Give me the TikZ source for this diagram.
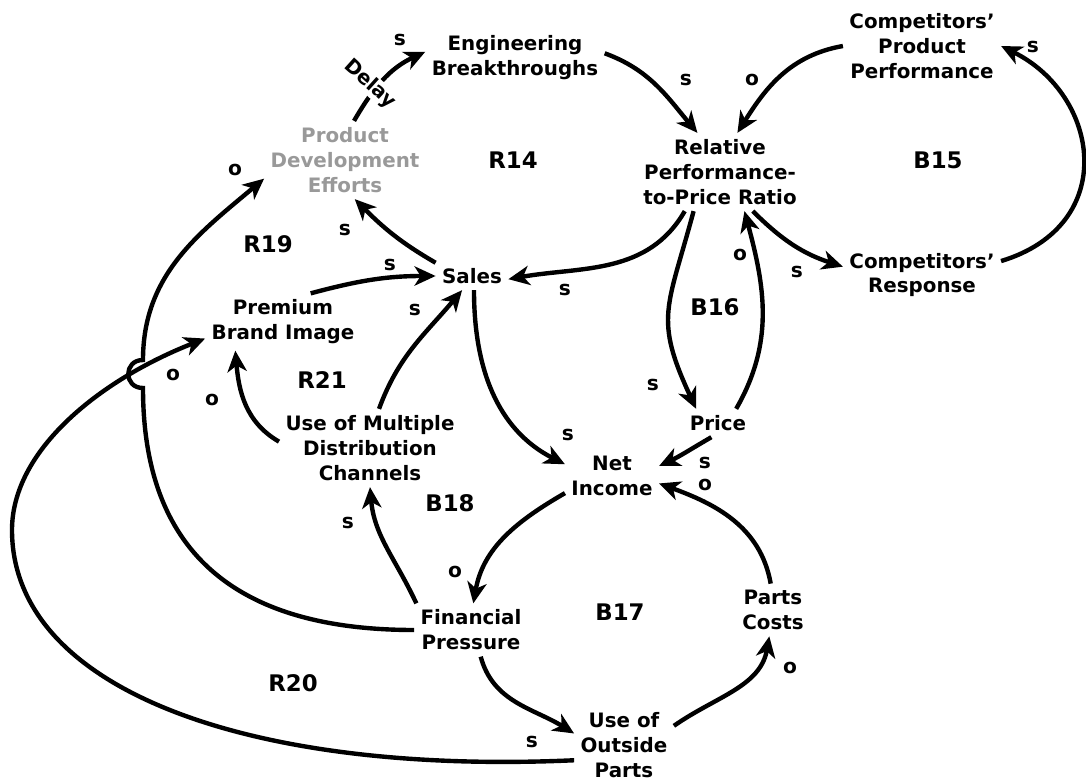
\documentclass[tikz,border=0pt]{standalone}
\usepackage{fontspec}
\setmainfont{DejaVu Sans}
\usetikzlibrary{arrows.meta}
\definecolor{pdegray}{gray}{0.6}

\begin{document}
\begin{tikzpicture}[x=0.02cm,y=-0.02cm,
          every node/.style={font=\bfseries\fontsize{11.3}{14.2}\selectfont},
          var/.style={align=center,inner sep=3.5pt},
          pol/.style={font=\bfseries\fontsize{11.5}{13}\selectfont,inner sep=1pt},
          loopname/.style={font=\bfseries\fontsize{13}{15}\selectfont},
          link/.style={line width=2.5pt,-{Stealth[length=12pt,width=11pt,inset=3.5pt]}},
        ]
        \useasboundingbox (0,0) rectangle (1086,781);
        \node[var] (eb) at (515,58) {Engineering\\Breakthroughs};
        \node[var,text=pdegray] (pde) at (345,160) {Product\\Development\\Efforts};
        \node[var] (rpr) at (720,172) {Relative\\Performance-\\to-Price Ratio};
        \node[var] (cpp) at (922,46) {Competitors’\\Product\\Performance};
        \node[var] (cr) at (922,275) {Competitors’\\Response};
        \node[var] (sales) at (472,276) {Sales};
        \node[var] (pbi) at (283,322) {Premium\\Brand Image};
        \node[var] (umdc) at (370,448) {Use of Multiple\\Distribution\\Channels};
        \node[var] (price) at (718,423) {Price};
        \node[var] (ni) at (612,476) {Net\\Income};
        \node[var] (fp) at (471,630) {Financial\\Pressure};
        \node[var] (pc) at (773,610) {Parts\\Costs};
        \node[var] (uop) at (624,745) {Use of\\Outside\\Parts};
        \coordinate (hopb) at (143,388);
        \coordinate (hopt) at (143,360);
        \coordinate (farw) at (12,530);
        \draw[link] (pde.77) to[out=60,in=205] (eb.176);
        \draw[link] (eb.3) to[out=-20,in=130] (rpr.120);
        \draw[link] (cpp.180) to[out=190,in=58] (rpr.66);
        \draw[link] (cr.10) .. controls (1120,225) and (1100,95) .. (cpp.0);
        \draw[link] (rpr.-50) to[out=-45,in=162] (cr.174);
        \draw[link] (rpr.-132) to[out=-120,in=10] (sales.-5);
        \draw[link] (rpr.-124) to[out=-105,in=115,looseness=1.3] (price.147);
        \draw[link] (price.38) to[out=60,in=-75] (rpr.-58);
        \draw[link] (sales.160) to[out=150,in=-45] (pde.-76);
        \draw[link] (pbi.46) to[out=15,in=180] (sales.180);
        \draw[link] (umdc.77) to[out=70,in=-130] (sales.-125);
        \draw[link] (umdc.176) to[out=150,in=-85] (pbi.-149);
        \draw[link] (sales.-82) to[out=-90,in=153] (ni.166);
        \draw[link] (price.-115) to[out=210,in=25] (ni.12);
        \draw[link] (pc.95) to[out=100,in=-20] (ni.-9);
        \draw[link] (ni.-160) to[out=210,in=80] (fp.85);
        \draw[link] (fp.154) to[out=115,in=-85] (umdc.-90);
        \draw[link] (fp.180) to[out=180,in=-90,looseness=1.2] (hopb)
          to[out=180,in=180,looseness=1.8] (hopt) to[out=90,in=220] (pde.193);
        \draw[link] (uop.197) .. controls (250,775) and (12,690) .. (farw)
          .. controls (12,450) and (100,380) .. (pbi.-168);
        \draw[link] (fp.-70) to[out=-75,in=148] (uop.167);
        \draw[link] (uop.21) to[out=35,in=-100] (pc.-98);
        \node[fill=white,inner sep=0.5pt,rotate=-42] (delay) at (370,84) {Delay};
        \node[loopname] (r14) at (513,160) {R14};
        \node[loopname] (b15) at (938,160) {B15};
        \node[loopname] (r19) at (268,244) {R19};
        \node[loopname] (b16) at (715,307) {B16};
        \node[loopname] (r21) at (322,380) {R21};
        \node[loopname] (b18) at (450,503) {B18};
        \node[loopname] (b17) at (620,612) {B17};
        \node[loopname] (r20) at (293,683) {R20};
        \node[pol] (p1) at (400,40) {s};
        \node[pol] (p2) at (686,80) {s};
        \node[pol] (p3) at (752,80) {o};
        \node[pol] (p4) at (1033,47) {s};
        \node[pol] (p5) at (797,272) {s};
        \node[pol] (p6) at (565,290) {s};
        \node[pol] (p7) at (653,385) {s};
        \node[pol] (p8) at (740,255) {o};
        \node[pol] (p9) at (345,230) {s};
        \node[pol] (p10) at (390,265) {s};
        \node[pol] (p11) at (415,310) {s};
        \node[pol] (p12) at (212,400) {o};
        \node[pol] (p13) at (568,435) {s};
        \node[pol] (p14) at (705,463) {s};
        \node[pol] (p15) at (705,485) {o};
        \node[pol] (p16) at (455,572) {o};
        \node[pol] (p17) at (348,523) {s};
        \node[pol] (p18) at (235,170) {o};
        \node[pol] (p19) at (173,375) {o};
        \node[pol] (p20) at (532,742) {s};
        \node[pol] (p21) at (790,668) {o};
      \end{tikzpicture}
\end{document}
